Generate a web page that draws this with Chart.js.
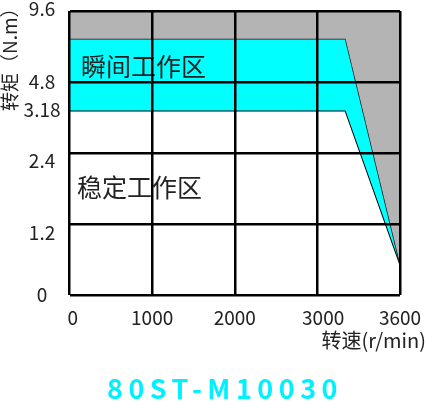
<!DOCTYPE html>
<html>
<head>
<meta charset="utf-8">
<script src="https://cdn.jsdelivr.net/npm/chart.js@4.4.1/dist/chart.umd.min.js"></script>
<style>
  body { margin: 0; background: #fff; }
  #wrap { position: relative; width: 426px; height: 402px; }
  #model {
    position: absolute; left: 225px; top: 374px; transform: translateX(-50%);
    font: bold 27px "Noto Sans CJK SC", sans-serif; line-height: 1; letter-spacing: 5.5px;
    color: #00f0ff; white-space: nowrap;
  }
</style>
</head>
<body>
<div id="wrap">
  <canvas id="chart"></canvas>
  <div id="model">80ST-M10030</div>
</div>
<script>
// the drawing uses 4 equal grid steps per axis, the labels are not linear,
// so values below are in grid steps (0..4)
const xTickLabels = ['0', '1000', '2000', '3000', '3600'];
const yTickLabels = ['0', '1.2', '2.4', '3.18', '4.8', '9.6'];
const peakSpeed = [0, 3.34, 4];
const peakTorque = [3.61, 3.61, 0.44];
const ratedSpeed = [0, 3.34, 4];
const ratedTorque = [2.6, 2.6, 0.44];

// where the tick texts sit (they are not exactly on the grid lines)
const xLabelAt = [0.04, 1, 2, 3.07, 4];
const yLabelAt = [0, 0.87, 1.89, 2.61, 3, 4.03];

const FONT = '"Noto Sans CJK SC", sans-serif';
const pts = (xs, ys) => xs.map((x, i) => ({ x: x, y: ys[i] }));

const zoneText = {
  id: 'zoneText',
  afterDatasetsDraw(chart) {
    const { ctx, scales: { x, y } } = chart;
    ctx.save();
    ctx.font = '25px ' + FONT;
    ctx.fillStyle = '#222';
    ctx.textBaseline = 'middle';
    ctx.fillText('瞬间工作区', x.getPixelForValue(0.14), y.getPixelForValue(3.225));
    ctx.fillText('稳定工作区', x.getPixelForValue(0.09), y.getPixelForValue(1.52));
    ctx.restore();
  },
  afterDraw(chart) {
    const ctx = chart.ctx;
    ctx.save();
    ctx.font = '19px ' + FONT;
    ctx.fillStyle = '#222';
    ctx.textBaseline = 'middle';
    ctx.translate(10, 111);
    ctx.rotate(-Math.PI / 2);
    ctx.fillText('转矩（N.m）', 0, 0);
    ctx.restore();
  }
};

const noPad = s => { s.paddingTop = s.paddingBottom = s.paddingLeft = s.paddingRight = 0; };

const gridAxis = {
  type: 'linear', min: 0, max: 4,
  ticks: { display: false, stepSize: 1 },
  grid: { color: '#000', lineWidth: 2.5, drawTicks: false, z: 1 },
  border: { display: false }
};

new Chart(document.getElementById('chart'), {
  type: 'line',
  data: {
    datasets: [
      {
        data: pts(peakSpeed, peakTorque),
        fill: 'end',
        backgroundColor: '#b4b4b4',
        borderWidth: 0
      },
      {
        data: pts(peakSpeed, peakTorque),
        fill: '+1',
        backgroundColor: '#00ffff',
        borderColor: '#111',
        borderWidth: 1.5
      },
      {
        data: pts(ratedSpeed, ratedTorque),
        fill: false,
        borderColor: '#000',
        borderWidth: 2
      }
    ]
  },
  options: {
    responsive: true,
    maintainAspectRatio: false,
    animation: false,
    elements: { point: { radius: 0 }, line: { tension: 0 } },
    layout: { padding: { top: 11, left: 0, right: 0, bottom: 50 } },
    scales: {
      x: {
        type: 'linear', position: 'bottom', min: 0, max: 4,
        grid: { display: false, drawTicks: false }, border: { display: false },
        afterBuildTicks: s => { s.ticks = xLabelAt.map(v => ({ value: v })); },
        afterFit: s => { s.height = 31; noPad(s); },
        ticks: {
          autoSkip: false, maxRotation: 0, padding: 11,
          color: '#222', font: { family: FONT, size: 19 },
          callback: (v, i) => xTickLabels[i]
        }
      },
      xg: Object.assign({ position: 'bottom', afterFit: s => { s.height = 0; noPad(s); } }, gridAxis),
      y: {
        type: 'linear', position: 'left', min: 0, max: 4,
        grid: { display: false, drawTicks: false }, border: { display: false },
        afterBuildTicks: s => { s.ticks = yLabelAt.map(v => ({ value: v })); },
        afterFit: s => { s.width = 69.5; noPad(s); },
        ticks: {
          padding: 9, crossAlign: 'center',
          color: '#222', font: { family: FONT, size: 19 },
          callback: (v, i) => yTickLabels[i]
        }
      },
      yg: Object.assign({ position: 'left', afterFit: s => { s.width = 0; noPad(s); } }, gridAxis),
      yr: {
        type: 'linear', position: 'right', min: 0, max: 4,
        grid: { display: false, drawTicks: false }, border: { display: false },
        ticks: { display: false },
        afterFit: s => { s.width = 26; noPad(s); }
      }
    },
    plugins: {
      legend: { display: false },
      tooltip: { enabled: false },
      subtitle: {
        display: true, position: 'bottom', align: 'end',
        text: '转速(r/min)', color: '#222',
        font: { family: FONT, size: 20, weight: 'normal' },
        padding: { top: 2, bottom: 0 }
      }
    }
  },
  plugins: [zoneText]
});
</script>
</body>
</html>
